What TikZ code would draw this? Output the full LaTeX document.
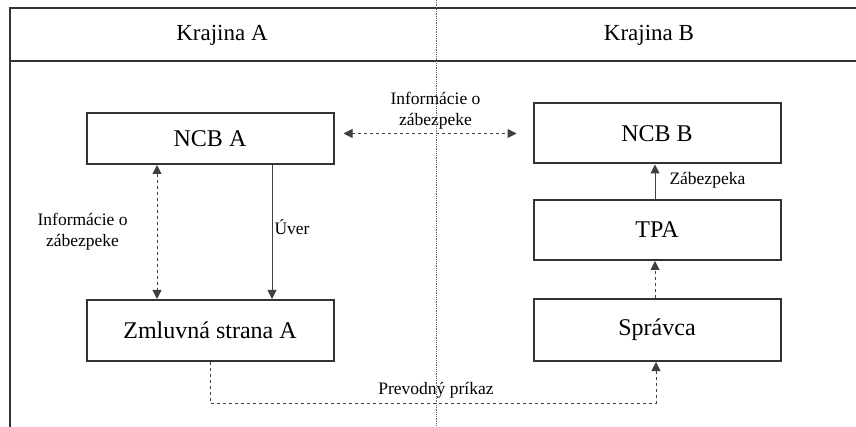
\documentclass[tikz,border=0pt]{standalone}
\usepackage{fontspec}
\setmainfont{Liberation Serif}
\usetikzlibrary{arrows.meta,calc,positioning}

\begin{document}
\begin{tikzpicture}[
		x=1pt, y=-1pt,
		box/.style={draw=black!80, line width=2pt, minimum width=247pt, inner sep=0pt, font=\fontsize{24}{26}\selectfont},
		lab/.style={font=\fontsize{17.5}{21}\selectfont, inner sep=2pt},
		conn/.style={draw=black!75, line width=1pt},
		>={Triangle[width=9pt,length=9pt]}
		]
		\useasboundingbox (0,0) rectangle (856,427);
		
		% Le cadre et les en-tetes
		\draw[black!80, line width=2pt] (856,8) -- (9.5,8) -- (9.5,427);
		\draw[black!80, line width=2pt] (9.5,61) -- (856,61);
		\draw[black!60, densely dotted, line width=0.8pt] (436,0) -- (436,427);
		\node[font=\fontsize{23}{25}\selectfont] (hA) at (222,35) {Krajina A};
		\node[font=\fontsize{23}{25}\selectfont] (hB) at (649,35) {Krajina B};
		
		% Les blocs
		\node[box, minimum height=51pt] (ncbA) at (210,138.5) {NCB A};
		\node[box, minimum height=61pt] (zmluva) at (210,330.5) {Zmluvná strana A};
		\node[box, minimum height=60pt] (ncbB) at (657,133.5) {NCB B};
		\node[box, minimum height=60pt] (tpa) at (657,230) {TPA};
		\node[box, minimum height=62pt] (spravca) at (657,330) {Správca};
		
		% Les fleches
		\draw[conn, dashed, <->] ([xshift=-53pt]ncbA.south) to node[lab, midway, left=27pt, align=center] {Informácie o\\zábezpeke} ([xshift=-53pt]zmluva.north);
		\draw[conn, ->] ([xshift=62pt]ncbA.south) to node[lab, midway, right, yshift=5pt] {Úver} ([xshift=62pt]zmluva.north);
		\draw[conn, dashed, <->, shorten <=9pt, shorten >=16pt] (ncbA.east |- ncbB.west) to node[lab, midway, above=2pt, xshift=2pt, align=center] {Informácie o\\zábezpeke} (ncbB.west);
		\draw[conn, ->] ([xshift=-2pt]tpa.north) to node[lab, midway, right=12pt, yshift=1pt] {Zábezpeka} ([xshift=-2pt]ncbB.south);
		\draw[conn, dashed, ->] ([xshift=-2pt]spravca.north) to ([xshift=-2pt]tpa.south);
		\draw[conn, dashed, ->] (zmluva.south) |- (436,403) node[lab, above=2pt] {Prevodný príkaz} -| ([xshift=-1pt]spravca.south);
	\end{tikzpicture}
\end{document}
